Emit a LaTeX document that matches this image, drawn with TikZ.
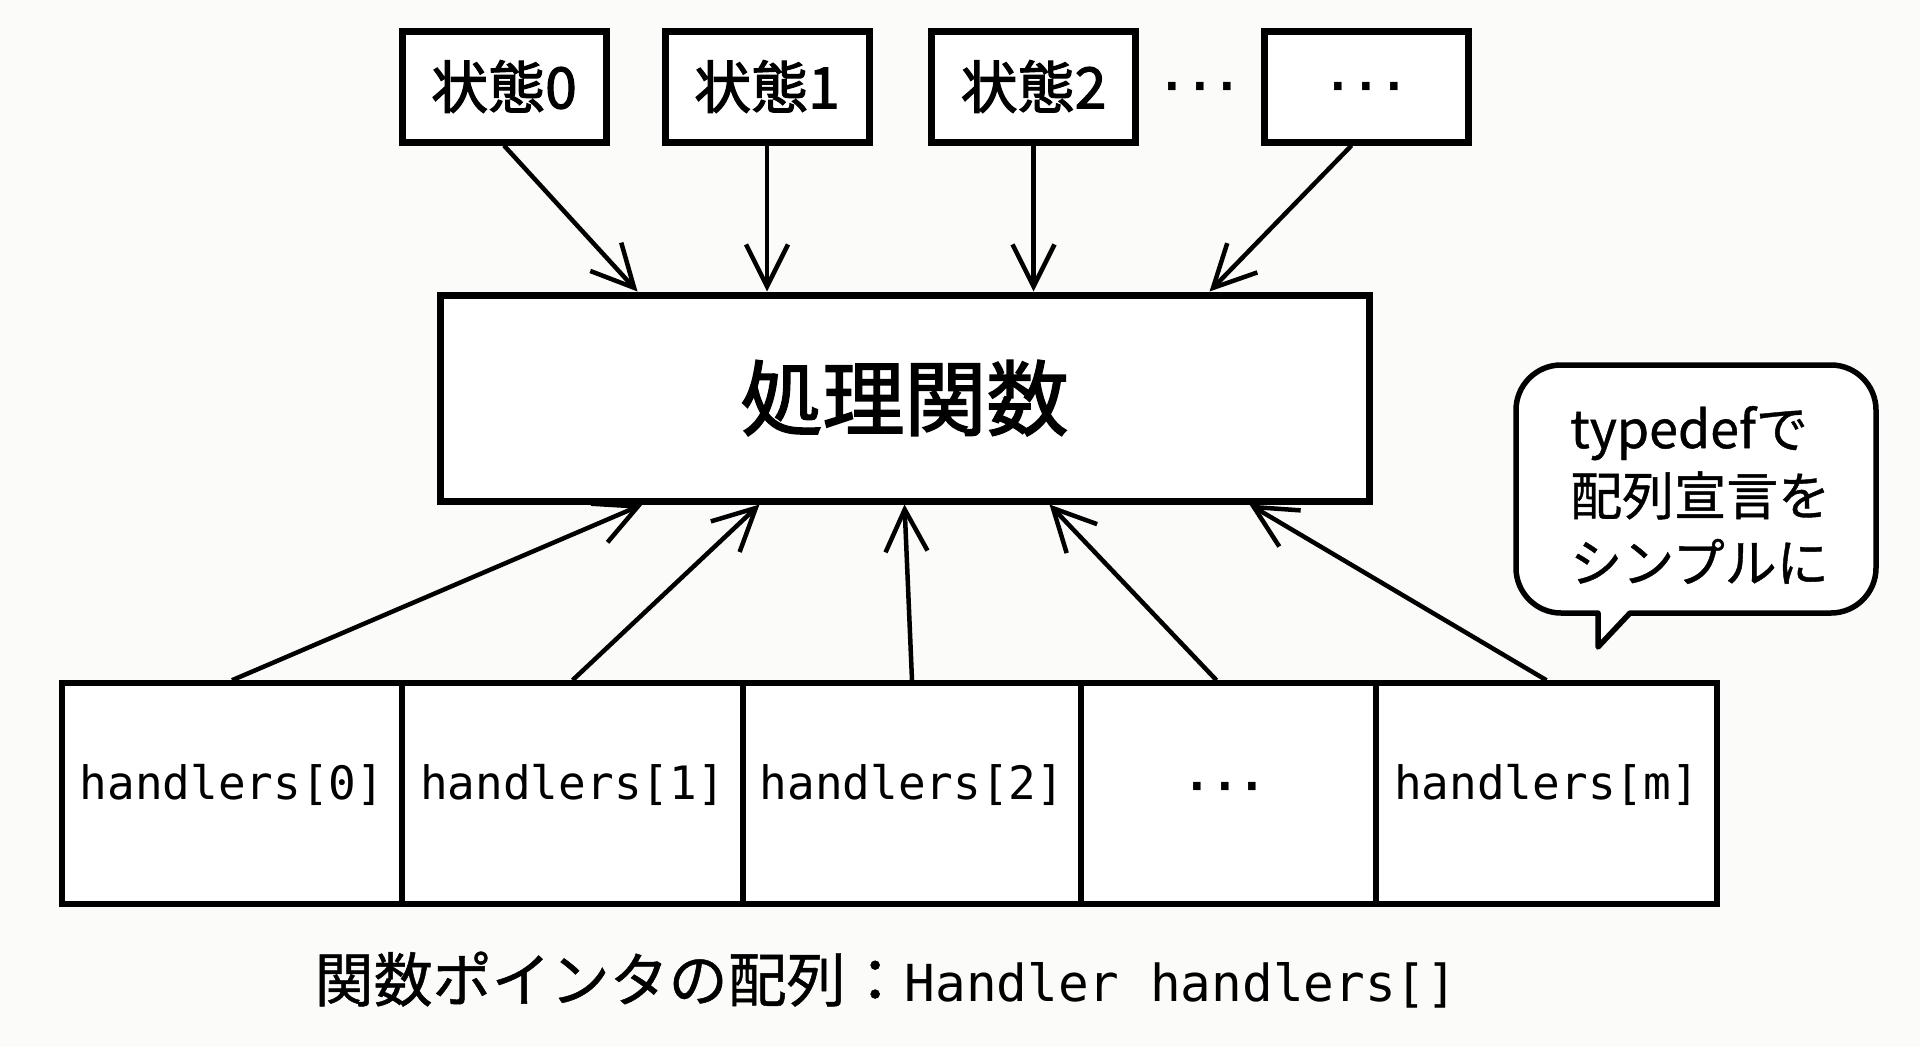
\documentclass[tikz,border=0pt]{standalone}
\usepackage{fontspec}
\newfontfamily\jp{Noto Sans CJK JP}[FakeBold=0.8]
\newfontfamily\jpm{Noto Sans CJK JP}[FakeBold=2]
\newfontfamily\mono{DejaVu Sans Mono}
\usetikzlibrary{arrows.meta}
\definecolor{bg}{HTML}{FBFBF9}
\begin{document}
\begin{tikzpicture}[x=1pt,y=-1pt,
  sbox/.style={draw, line width=7pt, fill=white, minimum width=204pt, minimum height=111pt, inner sep=0pt, font={\jpm\fontsize{57}{60}\selectfont}},
  procbox/.style={draw, line width=7pt, fill=white, minimum width=929pt, minimum height=206pt, inner sep=0pt, font={\jpm\fontsize{82}{90}\selectfont}},
  cell/.style={draw, line width=5.5pt, fill=white, minimum height=221pt, inner sep=0pt, text height=35pt, text depth=23pt, font={\mono\fontsize{46}{50}\selectfont}},
  dotsfont/.style={inner sep=0pt, anchor=base, font={\mono\bfseries\fontsize{46}{50}\selectfont}},
  arr/.style={line width=4.5pt, -{Straight Barb[length=42pt,width=42pt]}},
  bubble/.style={draw, line width=5.5pt, fill=white, line join=round},
]
\useasboundingbox (0,0) rectangle (1920,1047);
\fill[bg] (0,0) rectangle (1920,1047);

% top state boxes
\node[sbox] (s0) at (504,86.5) {状態0};
\node[sbox] (s1) at (767,86.5) {状態1};
\node[sbox] (s2) at (1033.5,86.5) {状態2};
\node[dotsfont] (d0) at (1200,102) {···};
\node[sbox] (s3) at (1366.5,86.5) {};
\node[dotsfont] (d1) at (1366.5,102) {···};

% processing function
\node[procbox] (proc) at (904.5,398) {処理関数};

% array cells
\node[cell, minimum width=340pt] (c0) at (232,793.5) {handlers[0]};
\node[cell, minimum width=341pt] (c1) at (572.5,793.5) {handlers[1]};
\node[cell, minimum width=338pt] (c2) at (912,793.5) {handlers[2]};
\node[cell, minimum width=295pt] (c3) at (1228.5,793.5) {};
\node[dotsfont] (d2) at (1225,802) {···};
\node[cell, minimum width=341pt] (c4) at (1546.5,793.5) {handlers[m]};

% arrows from states
\draw[arr] (s0.south) -- ([xshift=-267pt]proc.north);
\draw[arr] (s1.south) -- ([xshift=-137.5pt]proc.north);
\draw[arr] (s2.south) -- ([xshift=129pt]proc.north);
\draw[arr] ([xshift=-15pt]s3.south) -- ([xshift=305pt]proc.north);

% arrows from handlers
\draw[arr] (c0.north) -- ([xshift=-262pt]proc.south);
\draw[arr] (c1.north) -- ([xshift=-145pt]proc.south);
\draw[arr] (c2.north) -- ([xshift=0pt]proc.south);
\draw[arr] ([xshift=-12pt]c3.north) -- ([xshift=145pt]proc.south);
\draw[arr] (c4.north) -- ([xshift=345pt]proc.south);

% speech bubble
\draw[bubble] (1598,613) -- (1561,613) .. controls (1536.25,613) and (1516,592.75) .. (1516,568)
  -- (1516,410) .. controls (1516,385.25) and (1536.25,365) .. (1561,365)
  -- (1831,365) .. controls (1855.75,365) and (1876,385.25) .. (1876,410)
  -- (1876,568) .. controls (1876,592.75) and (1855.75,613) .. (1831,613)
  -- (1630,613) -- (1598,647) -- cycle;
\node[anchor=west, align=left, inner sep=0pt, font={\jp\fontsize{52}{67}\selectfont}] (btxt) at (1570,495) {typedefで\\配列宣言を\\シンプルに};

% caption
\node[inner sep=0pt] (cap) at (886,980) {{\jp\fontsize{59}{60}\selectfont 関数ポインタの配列：}{\mono\fontsize{51}{60}\selectfont Handler handlers[]}};
\end{tikzpicture}
\end{document}
